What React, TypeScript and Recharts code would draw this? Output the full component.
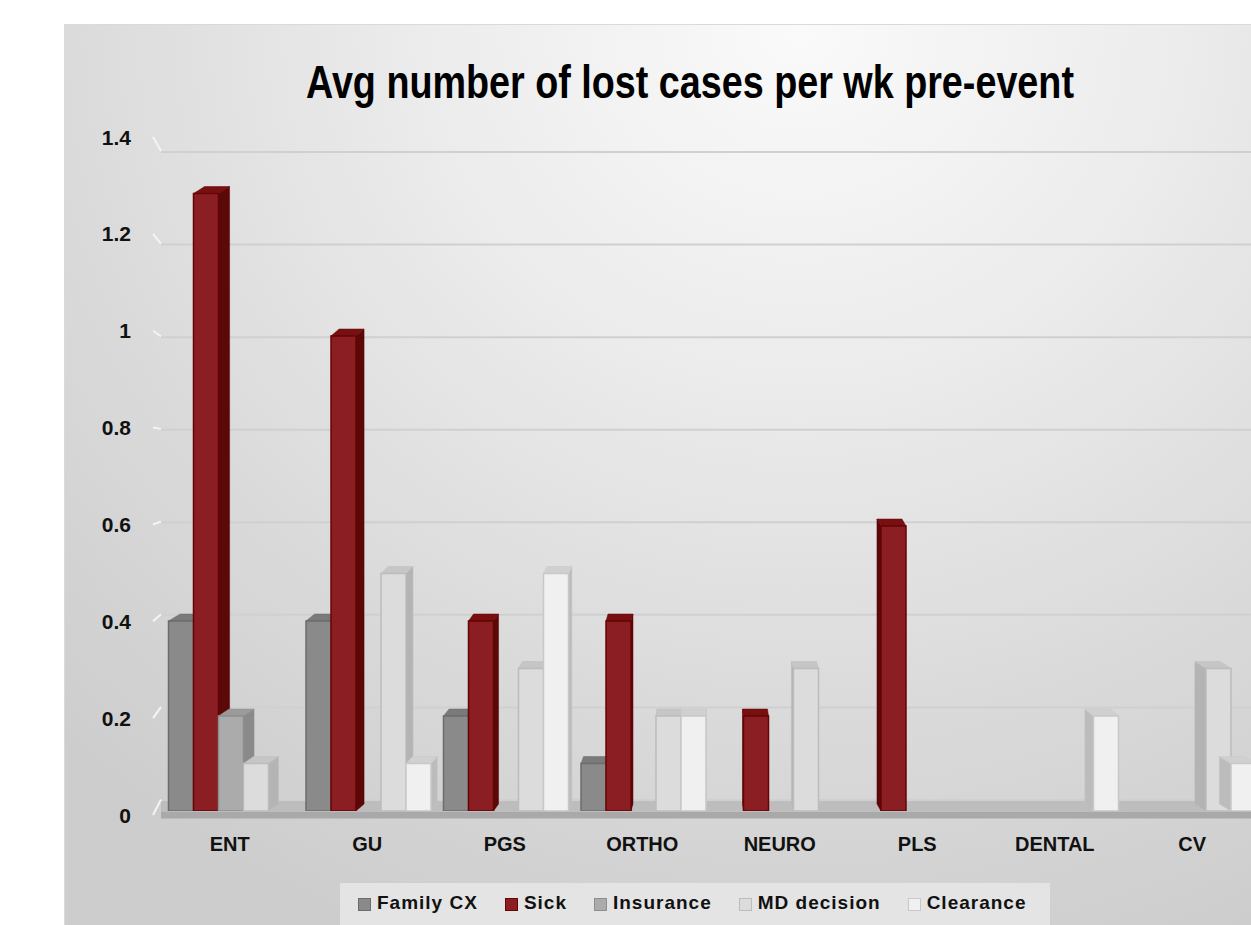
import { BarChart, Bar, XAxis, YAxis, CartesianGrid, Legend } from "recharts";

const categories = ["ENT", "GU", "PGS", "ORTHO", "NEURO", "PLS", "DENTAL", "CV"];
const familyCx = [0.4, 0.4, 0.2, 0.1, 0, 0, 0, 0];
const sick = [1.3, 1.0, 0.4, 0.4, 0.2, 0.6, 0, 0];
const insurance = [0.2, 0, 0, 0, 0, 0, 0, 0];
const mdDecision = [0.1, 0.5, 0.3, 0.2, 0.3, 0, 0, 0.3];
const clearance = [0, 0.1, 0.5, 0.2, 0, 0, 0.2, 0.1];
const yTicks = [0, 0.2, 0.4, 0.6, 0.8, 1, 1.2, 1.4];

const data = categories.map((name, i) => ({
  name,
  familyCx: familyCx[i],
  sick: sick[i],
  insurance: insurance[i],
  mdDecision: mdDecision[i],
  clearance: clearance[i],
}));

const sans = '"Liberation Sans", Arial, sans-serif';

const tones = {
  familyCx: { front: "#8a8a8a", edge: "#6c6c6c", top: "#7a7a7a", side: "#686868" },
  sick: { front: "#8b1e22", edge: "#640404", top: "#781012", side: "#5a0808" },
  insurance: { front: "#ababab", edge: "#8e8e8e", top: "#9b9b9b", side: "#8a8a8a" },
  mdDecision: { front: "#dcdcdc", edge: "#bcbcbc", top: "#c6c6c6", side: "#b4b4b4" },
  clearance: { front: "#f0f0f0", edge: "#c8c8c8", top: "#d0d0d0", side: "#bcbcbc" },
};

const series = [
  { key: "familyCx", label: "Family CX" },
  { key: "sick", label: "Sick" },
  { key: "insurance", label: "Insurance" },
  { key: "mdDecision", label: "MD decision" },
  { key: "clearance", label: "Clearance" },
];

// fake 3d column: front face + top + the side facing the middle of the chart
function Box3D(props: any) {
  const { x, y, width: w, height: h, tone } = props;
  if (!h || h <= 0) return null;
  const dx = (645 - (x + w / 2)) * 0.022;
  const dy = -7;
  const sx = dx > 0 ? x + w : x;
  return (
    <g>
      <polygon
        points={`${sx},${y} ${sx + dx},${y + dy} ${sx + dx},${y + h + dy} ${sx},${y + h}`}
        fill={tone.side}
        stroke={tone.edge}
        strokeWidth={0.5}
      />
      <polygon
        points={`${x},${y} ${x + w},${y} ${x + w + dx},${y + dy} ${x + dx},${y + dy}`}
        fill={tone.top}
        stroke={tone.edge}
        strokeWidth={0.5}
      />
      <rect x={x} y={y} width={w} height={h} fill={tone.front} stroke={tone.edge} strokeWidth={1.5} />
    </g>
  );
}

function ValueTick(props: any) {
  const { x, y, payload } = props;
  const slant = -15.5 + payload.value * 21;
  return (
    <g>
      <line x1={x + 22} y1={y} x2={x + 30} y2={y + slant} stroke="#f4f4f4" strokeWidth={2} />
      <text x={x} y={y} dy="0.36em" textAnchor="end" fontFamily={sans} fontWeight="bold" fontSize={21} fill="#111">
        {payload.value}
      </text>
    </g>
  );
}

function LegendBox() {
  return (
    <div
      style={{
        background: "#e4e4e4",
        width: 710,
        height: 60,
        boxSizing: "border-box",
        display: "flex",
        alignItems: "flex-start",
        paddingLeft: 18,
        paddingTop: 9,
        fontFamily: sans,
        fontWeight: "bold",
        fontSize: 19,
        lineHeight: "22px",
        color: "#111",
      }}
    >
      {series.map((s) => {
        const t = tones[s.key as keyof typeof tones];
        return (
          <span
            key={s.key}
            style={{
              display: "flex",
              alignItems: "center",
              marginRight: 27,
              letterSpacing: 1,
              whiteSpace: "nowrap",
              flexShrink: 0,
            }}
          >
            <span
              style={{
                width: 11,
                height: 11,
                background: t.front,
                border: `1px solid ${t.edge}`,
                marginRight: 6,
                marginTop: 3,
              }}
            />
            {s.label}
          </span>
        );
      })}
    </div>
  );
}

export default function App() {
  return (
    <div
      style={{
        position: "absolute",
        left: 64,
        top: 24,
        width: 1186,
        height: 900,
        overflow: "hidden",
        borderLeft: "1px solid #dadada",
        borderTop: "1px solid #dadada",
        background:
          "radial-gradient(ellipse 90% 110% at 62% 0%, #fafafa 0%, #ececec 35%, #dadada 70%, #cdcdcd 100%)",
      }}
    >
      <div
        style={{
          position: "absolute",
          left: 0,
          top: 30,
          width: 1250,
          textAlign: "center",
          fontFamily: sans,
          fontWeight: "bold",
          fontSize: 46,
          color: "#000",
          transform: "scaleX(0.82)",
          zIndex: 2,
        }}
      >
        Avg number of lost cases per wk pre-event
      </div>
      <BarChart
        width={1210}
        height={900}
        data={data}
        margin={{ top: 121, right: 14, bottom: 74, left: 0 }}
        barCategoryGap={7.5}
        barGap={0}
      >
        <CartesianGrid
          yAxisId="wall"
          vertical={false}
          syncWithTicks
          stroke="#d0d0d0"
          strokeWidth={2}
          horizontalFill={["none", "none", "none", "none", "none", "none", "none", "none", "#bdbdbd"]}
          fillOpacity={1}
        />
        <XAxis
          dataKey="name"
          height={40}
          tickLine={false}
          tickMargin={20}
          axisLine={{ stroke: "#a9a9a9", strokeWidth: 7, transform: "translate(0,4)" }}
          tick={{ fontFamily: sans, fontWeight: "bold", fontSize: 20, fill: "#111" }}
        />
        <YAxis yAxisId="front" hide width={0} domain={[0, 1.4]} ticks={yTicks} allowDataOverflow />
        <YAxis yAxisId="wall" hide width={0} domain={[-0.0238, 1.413]} ticks={yTicks} allowDataOverflow />
        <YAxis
          yAxisId="label"
          width={96}
          domain={[0.0083, 1.3814]}
          ticks={yTicks}
          interval={0}
          allowDataOverflow
          axisLine={false}
          tickLine={false}
          tickMargin={24}
          tick={<ValueTick />}
        />
        <Legend
          verticalAlign="middle"
          layout="horizontal"
          wrapperStyle={{ left: 275, top: 858, width: 710 }}
          content={<LegendBox />}
        />
        {series.map((s) => (
          <Bar
            key={s.key}
            dataKey={s.key}
            name={s.label}
            yAxisId="front"
            fill={tones[s.key as keyof typeof tones].front}
            isAnimationActive={false}
            shape={(p: any) => <Box3D {...p} tone={tones[s.key as keyof typeof tones]} />}
          />
        ))}
      </BarChart>
    </div>
  );
}
